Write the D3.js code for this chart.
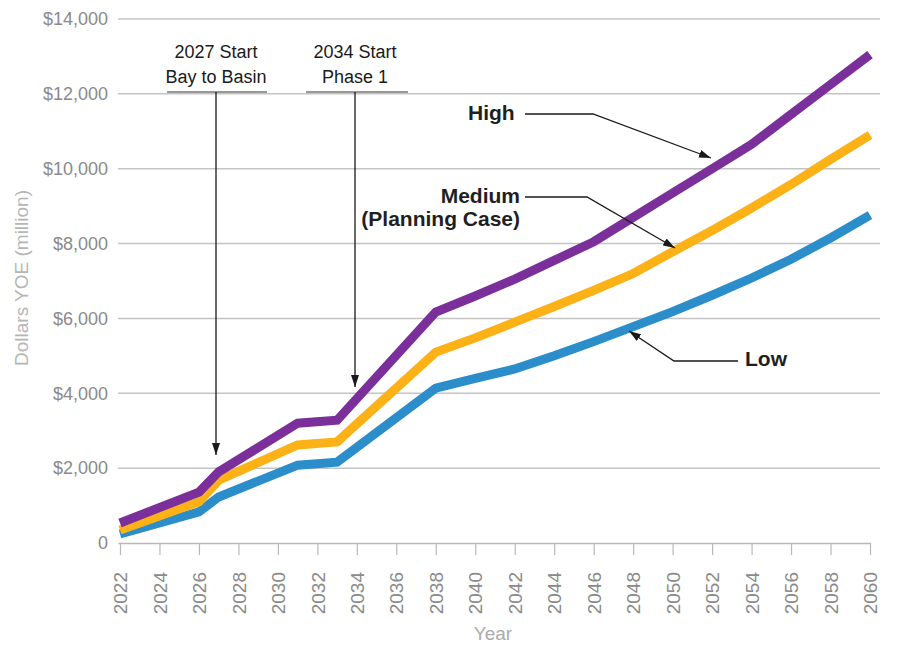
<!DOCTYPE html>
<html><head><meta charset="utf-8">
<script src="https://cdn.jsdelivr.net/npm/d3@7"></script>
<style>
html,body{margin:0;padding:0;background:#fff;}
svg{display:block;font-family:"Liberation Sans",Arial,sans-serif;}
</style></head>
<body>
<svg id="c" width="905" height="647"></svg>
<script>
// ---- data ----
const years = [2022, 2026, 2027, 2031, 2033, 2038, 2040, 2042, 2044, 2046, 2048, 2050, 2052, 2054, 2056, 2058, 2060];
const high   = [534, 1360, 1900, 3200, 3280, 6170, 6600, 7050, 7550, 8050, 8700, 9350, 10000, 10650, 11450, 12250, 13050];
const medium = [350, 1100, 1680, 2620, 2700, 5100, 5480, 5900, 6320, 6750, 7200, 7780, 8350, 8950, 9580, 10250, 10900];
const low    = [240, 830, 1230, 2080, 2160, 4140, 4400, 4650, 5000, 5380, 5780, 6180, 6620, 7080, 7580, 8150, 8760];
const seriesNames = ["Low", "Medium", "High"];
const seriesColors = ["#2b8dca", "#fcb116", "#7b2f9a"];
const yTicks = [0, 2000, 4000, 6000, 8000, 10000, 12000, 14000];
const xTicks = d3.range(2022, 2061, 2);

const svg = d3.select("#c");
const x = d3.scaleLinear().domain([2022, 2060]).range([120, 870]);
const y = d3.scaleLinear().domain([0, 14000]).range([543, 19]);

// defs: arrowhead
svg.append("defs").append("marker")
  .attr("id", "ah").attr("viewBox", "0 0 12 8").attr("refX", 12).attr("refY", 4)
  .attr("markerWidth", 12).attr("markerHeight", 8).attr("markerUnits", "userSpaceOnUse")
  .attr("orient", "auto")
  .append("path").attr("d", "M0,0L12,4L0,8Z").attr("fill", "#1a1a1a");

// gridlines
svg.append("g").selectAll("line").data(yTicks.filter(d => d > 0)).join("line")
  .attr("x1", 118).attr("x2", 880)
  .attr("y1", d => y(d)).attr("y2", d => y(d))
  .attr("stroke", "#c4c4c4").attr("stroke-width", 1.5);

// y axis labels
const yAxis = d3.axisLeft(y).tickValues(yTicks).tickSize(0).tickPadding(0)
  .tickFormat(d => d === 0 ? "0" : "$" + d3.format(",")(d));
const gy = svg.append("g").attr("transform", "translate(108,0)").call(yAxis);
gy.select(".domain").remove();
gy.selectAll("text").attr("font-size", 18).attr("fill", "#8a8a8a")
  .attr("font-family", "'Liberation Sans',Arial,sans-serif");

// x axis
const xAxis = d3.axisBottom(x).tickValues(xTicks).tickSize(12).tickFormat(d3.format("d"));
const gx = svg.append("g").attr("transform", "translate(0,543)").call(xAxis);
gx.select(".domain").attr("d", "M118.5,0.5H871").attr("stroke", "#b8b8b8").attr("stroke-width", 1.5);
gx.selectAll(".tick line").attr("stroke", "#b8b8b8").attr("stroke-width", 1.2);
gx.selectAll(".tick text")
  .attr("transform", "rotate(-90)")
  .attr("x", -29).attr("y", 0).attr("dy", "0.35em")
  .attr("text-anchor", "end")
  .attr("font-size", 19).attr("fill", "#8a8a8a")
  .attr("font-family", "'Liberation Sans',Arial,sans-serif");

// axis titles
svg.append("text").attr("x", 493).attr("y", 640).attr("text-anchor", "middle")
  .attr("font-size", 19).attr("fill", "#ababab").text("Year");
svg.append("text").attr("transform", "translate(28,278) rotate(-90)").attr("text-anchor", "middle")
  .attr("font-size", 19).attr("fill", "#b5b5b5").text("Dollars YOE (million)");

// lines
const seriesVals = [low, medium, high];
const line = d3.line().x(d => x(d[0])).y(d => y(d[1]));
svg.append("g").selectAll("path").data(seriesVals).join("path")
  .attr("d", v => line(years.map((yr, i) => [yr, v[i]])))
  .attr("fill", "none")
  .attr("stroke", (d, i) => seriesColors[i])
  .attr("stroke-width", 9)
  .attr("stroke-linejoin", "miter")
  .attr("stroke-linecap", "butt");

// annotations
const ann = svg.append("g").attr("fill", "#1a1a1a").attr("font-size", 18);
function callout(cx, x1, x2, lines, tipY) {
  lines.forEach((t, i) => ann.append("text").attr("x", cx).attr("y", 58 + i * 25)
    .attr("text-anchor", "middle").attr("fill", "#1a1a1a").text(t));
  ann.append("line").attr("x1", x1).attr("x2", x2).attr("y1", 92).attr("y2", 92)
    .attr("stroke", "#333").attr("stroke-width", 1.2);
  ann.append("line").attr("x1", cx).attr("x2", cx).attr("y1", 92).attr("y2", tipY)
    .attr("stroke", "#1a1a1a").attr("stroke-width", 1.3).attr("marker-end", "url(#ah)");
}
callout(216, 167, 267, ["2027 Start", "Bay to Basin"], 455);
callout(355, 306, 408, ["2034 Start", "Phase 1"], 387);

function pointer(pts) {
  ann.append("path").attr("d", d3.line()(pts)).attr("fill", "none")
    .attr("stroke", "#1a1a1a").attr("stroke-width", 1.3).attr("marker-end", "url(#ah)");
}
ann.append("text").attr("x", 468).attr("y", 120).attr("font-size", 21).attr("font-weight", "bold")
  .attr("fill", "#1f1f1f").text("High");
pointer([[525, 114], [593, 114], [711, 158]]);
ann.append("text").attr("x", 520).attr("y", 203).attr("text-anchor", "end").attr("font-size", 21)
  .attr("font-weight", "bold").attr("fill", "#1f1f1f").text("Medium");
ann.append("text").attr("x", 520).attr("y", 226).attr("text-anchor", "end").attr("font-size", 21)
  .attr("font-weight", "bold").attr("fill", "#1f1f1f").text("(Planning Case)");
pointer([[525, 197], [587, 197], [675, 248]]);
ann.append("text").attr("x", 745).attr("y", 366).attr("font-size", 21).attr("font-weight", "bold")
  .attr("fill", "#1f1f1f").text("Low");
pointer([[738, 361], [674, 361], [629, 331]]);
</script>
</body></html>
